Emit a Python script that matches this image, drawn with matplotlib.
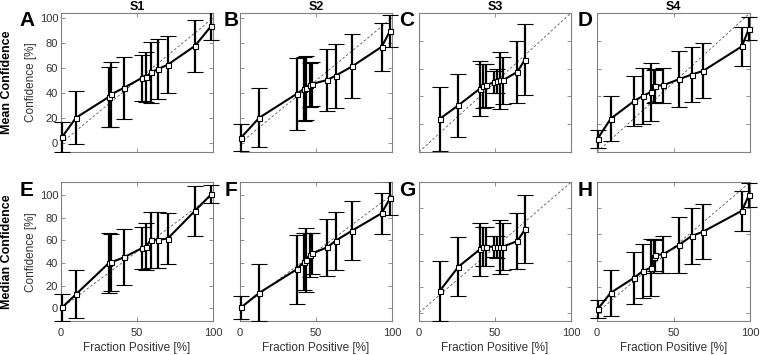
import numpy as np
import matplotlib
matplotlib.use('Agg')
import matplotlib.pyplot as plt
from matplotlib.patches import Rectangle

plt.rcParams['font.family'] = ['Liberation Sans', 'DejaVu Sans']

# ---- data (fraction positive [%], confidence [%], error half-width) ----
# S1
s1_x = [0.7, 9.9, 31.5, 32.8, 41.4, 53.1, 55.9, 59.2, 64.0, 70.2, 88.2, 98.9]
s1_mean = [5.0, 20.4, 37.0, 39.0, 44.2, 52.1, 52.6, 56.6, 59.3, 62.7, 77.8, 93.7]
s1_mean_err = [12, 21, 24, 26, 24.5, 18.6, 20, 24.5, 24, 22.7, 21, 11]
s1_median = [0.9, 12.6, 40.0, 40.5, 45.0, 53.0, 54.5, 60.5, 60.5, 61.5, 86.0, 100.5]
s1_median_err = [12, 21, 26, 25, 24.7, 18.7, 20.5, 24.5, 24.5, 22.7, 22, 8]
# S2
s2_x = [0.7, 12.7, 37.3, 42.0, 43.2, 45.8, 47.6, 57.4, 63.0, 73.8, 93.2, 98.7]
s2_mean = [4.5, 20.4, 39.4, 43.4, 44.2, 46.8, 47.4, 50.5, 54.0, 61.4, 77.0, 89.7]
s2_mean_err = [11, 23.8, 29, 25.7, 25.4, 17.5, 17.5, 24.5, 25.6, 25.5, 19, 13]
s2_median = [0.9, 13.8, 34.4, 41.0, 42.5, 47.0, 48.5, 53.8, 59.7, 68.5, 83.8, 97.0]
s2_median_err = [10, 25, 30.5, 25, 28, 19, 18, 25, 25.5, 25.7, 18, 15]
# S3
s3_x = [13.8, 25.9, 40.1, 42.3, 44.3, 49.6, 51.1, 53.3, 55.1, 64.7, 69.7]
s3_mean = [24.0, 33.6, 45.6, 47.3, 48.0, 50.4, 50.9, 51.6, 51.6, 57.6, 66.5]
s3_mean_err = [23, 22.7, 20, 15.7, 15.5, 8, 8.5, 20.7, 17, 22.2, 25.8]
s3_median = [16.9, 35.2, 48.6, 50.6, 50.6, 50.6, 50.1, 50.6, 50.6, 54.9, 63.9]
s3_median_err = [23, 22.5, 20.2, 15, 15, 8, 8.5, 20.8, 18, 21.7, 26]
# S4
s4_x = [0.4, 9.0, 24.3, 30.0, 35.2, 37.2, 38.2, 43.2, 53.5, 61.8, 69.3, 94.7, 99.3]
s4_mean = [9.6, 24.0, 36.7, 40.3, 43.2, 47.3, 47.8, 48.0, 52.3, 55.7, 58.3, 76.0, 88.8]
s4_mean_err = [6.5, 16, 18.3, 19.8, 20.6, 11.7, 11.7, 12.6, 20.2, 19.6, 19.8, 14, 8.5]
s4_median = [2.6, 15.3, 26.8, 32.0, 34.5, 43.0, 44.2, 44.8, 51.9, 58.8, 62.1, 78.2, 90.2]
s4_median_err = [7, 17.5, 19.8, 20.8, 22, 12.5, 12.2, 14, 21.7, 21.3, 21.1, 15.3, 9]

subjects = ['S1', 'S2', 'S3', 'S4']
xs = [s1_x, s2_x, s3_x, s4_x]
means = [s1_mean, s2_mean, s3_mean, s4_mean]
mean_errs = [s1_mean_err, s2_mean_err, s3_mean_err, s4_mean_err]
medians = [s1_median, s2_median, s3_median, s4_median]
median_errs = [s1_median_err, s2_median_err, s3_median_err, s4_median_err]
letters = ['A', 'B', 'C', 'D', 'E', 'F', 'G', 'H']
row_labels = ['Mean Confidence', 'Median Confidence']
ylims = [[(-7, 104), (-7, 104), (0, 100), (0, 100)],
         [(-11, 111), (-11, 111), (-6.4, 100), (-6.4, 100)]]

W, H = 760, 355
col_left = [61, 240, 419, 597]
col_width = [152, 152, 152, 153]
row_top = [13, 182.3]
row_height = [139, 138.7]
letter_x = [27, 231, 407, 585]
letter_y = [20, 191]

spine_gray = '#808080'
text_gray = '#333333'

fig = plt.figure(figsize=(W / 100, H / 100), dpi=100)

for r in range(2):
    ys = means if r == 0 else medians
    errs = mean_errs if r == 0 else median_errs
    for c in range(4):
        rect = [col_left[c] / W, 1 - (row_top[r] + row_height[r]) / H,
                col_width[c] / W, row_height[r] / H]
        ax = fig.add_axes(rect)
        # ideal calibration line
        ax.plot([0, 100], [0, 100], '--', color='#555555', lw=0.6,
                dashes=(3, 2.5), zorder=1)
        eb = ax.errorbar(xs[c], ys[c], yerr=errs[c], fmt='-s', color='black',
                         lw=1.5, elinewidth=1.6, capsize=5.5, capthick=1.6,
                         markersize=3.6, mfc='white', mec='black', mew=0.8,
                         zorder=3)
        # clip only top/bottom, let caps spill a little sideways (MATLAB look)
        clip = Rectangle((-0.06, 0), 1.12, 1, transform=ax.transAxes,
                         visible=False)
        ax.add_patch(clip)
        for art in [eb.lines[0]] + list(eb.lines[1]) + list(eb.lines[2]):
            art.set_clip_path(clip)
        ax.set_xlim(0, 100)
        ax.set_ylim(*ylims[r][c])
        ax.set_xticks([0, 50, 100])
        ax.set_yticks([0, 20, 40, 60, 80, 100])
        ax.tick_params(direction='in', top=True, right=True, length=3,
                       width=0.6, color=spine_gray, labelcolor=text_gray,
                       labelsize=8, pad=2)
        ax.tick_params(axis='x', pad=5)
        for s in ax.spines.values():
            s.set_color(spine_gray)
            s.set_linewidth(0.8)
        if c != 0:
            ax.set_yticklabels([])
        else:
            ax.set_ylabel('Confidence [%]', fontsize=8.5, color=text_gray,
                          labelpad=2)
        if r == 0:
            ax.set_xticklabels([])
            ax.set_title(subjects[c], fontsize=9, fontweight='bold', pad=2)
        else:
            ax.set_xlabel('Fraction Positive [%]', fontsize=8.5,
                          color=text_gray, labelpad=3)
        fig.text(letter_x[c] / W, 1 - letter_y[r] / H, letters[r * 4 + c],
                 ha='center', va='center', fontsize=15, fontweight='bold')
    fig.text(7 / W, 1 - (row_top[r] + row_height[r] / 2) / H, row_labels[r],
             rotation=90, ha='center', va='center', fontsize=9,
             fontweight='bold')

fig.savefig('out.png', dpi=100)
